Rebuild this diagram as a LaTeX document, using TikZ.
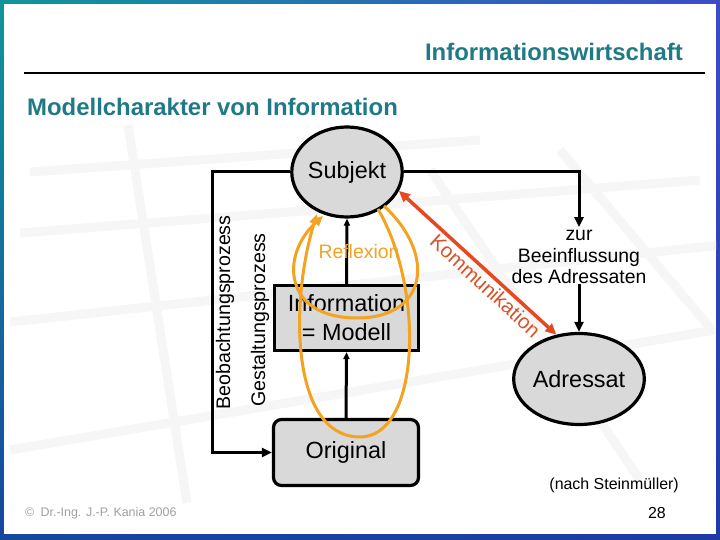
\documentclass[tikz,border=0pt]{standalone}
\usepackage{fontspec}
\setmainfont{Liberation Sans}
\usetikzlibrary{shapes.geometric,arrows.meta,shadings}
\definecolor{frameA}{RGB}{14,150,155}
\definecolor{frameB}{RGB}{60,76,200}
\definecolor{frameC}{RGB}{22,70,160}
\definecolor{frameD}{RGB}{30,58,165}
\definecolor{titlec}{RGB}{31,122,133}
\definecolor{nodegray}{RGB}{217,217,217}
\definecolor{reflc}{RGB}{243,163,33}
\definecolor{kommc}{RGB}{232,72,32}
\definecolor{kommtext}{RGB}{218,82,42}
\definecolor{footgray}{RGB}{160,160,160}
\definecolor{bgline}{RGB}{246,246,246}
\begin{document}
\begin{tikzpicture}[x=1bp,y=-1bp,
  nodebox/.style={draw=black, line width=3.2bp, fill=nodegray, inner sep=0pt,
    font=\fontsize{23.5}{26}\selectfont},
  ellnode/.style={nodebox, ellipse},
  conn/.style={draw=black, line width=3bp},
  bigtip/.style={-{Triangle[length=10bp,width=9bp]}},
  smalltip/.style={-{Triangle[length=7bp,width=6bp]}},
  loopline/.style={draw=reflc, line width=3bp, -{Triangle[length=10bp,width=9bp]}},
  kommline/.style={draw=kommc, line width=3.5bp,
    {Triangle[length=11bp,width=10bp]}-{Triangle[length=11bp,width=10bp]}},
  bgl/.style={draw=bgline, line width=9bp},
  vtext/.style={rotate=90, inner sep=0pt, font=\fontsize{19.7}{22}\selectfont}
]
\useasboundingbox (0,0) rectangle (720,540);
% frame
\shade[upper left=frameA, upper right=frameB, lower left=frameC, lower right=frameD]
  (0,0) rectangle (720,540);
\fill[white] (4,4) rectangle (716,534);
% faint background grid
\begin{scope}
\clip (4,4) rectangle (716,534);
\draw[bgl] (30,172) -- (480,140);
\draw[bgl] (20,233) -- (700,180);
\draw[bgl] (10,322) -- (720,245);
\draw[bgl] (10,450) -- (715,330);
\draw[bgl] (128,125) -- (187,503);
\draw[bgl] (430,170) -- (640,480);
\draw[bgl] (560,150) -- (712,330);
\end{scope}

% header
\node[anchor=east, inner sep=0pt, text=titlec, font=\bfseries\fontsize{24}{28}\selectfont]
  (t1) at (683,52) {Informationswirtschaft};
\draw[line width=1.3bp] (24,73) -- (705,73);
\node[anchor=west, inner sep=0pt, text=titlec, font=\bfseries\fontsize{24}{28}\selectfont]
  (t2) at (27,107) {Modellcharakter von Information};

% nodes
\node[ellnode, minimum width=105bp, minimum height=90bp] (subj) at (347,172) {Subjekt};
\node[ellnode, minimum width=107bp, minimum height=91bp] (adr) at (579,379) {Adressat};
\node[nodebox, rectangle, minimum width=144bp, minimum height=65bp, align=center,
  font=\fontsize{23.5}{29}\selectfont] (info) at (346.5,318) {Information\\= Modell};
\node[nodebox, rectangle, rounded corners=8bp, minimum width=145bp, minimum height=66bp]
  (orig) at (346,452.5) {Original};
\node[inner sep=0pt, align=center, font=\fontsize{19.5}{21.5}\selectfont]
  (zur) at (579,257) {zur\\Beeinflussung\\des Adressaten};

% vertical labels
\node[vtext] (beob) at (225,312.5) {Beobachtungsprozess};
\node[vtext] (gest) at (260,320) {Gestaltungsprozess};

% black connectors
\coordinate (bl) at (212,172);
\draw[conn, bigtip] (subj.west) -- (bl) |- (orig.west);
\draw[conn, bigtip, shorten >=3bp] (subj.east) -| (zur.north);
\draw[conn, bigtip] (zur.south) -- (adr.north);
\draw[conn, smalltip] (info.north) -- (subj.south);
\draw[conn, smalltip] (orig.north) -- (info.south);

% Reflexion
\node[inner sep=0pt, text=reflc, font=\fontsize{19.5}{22}\selectfont] (refl) at (359,252) {Reflexion};
\coordinate (ls1) at (384,206);
\coordinate (le1) at (323,216);
\coordinate (ls2) at (378,209);
\coordinate (le2) at (317,214);
\draw[loopline] (ls1) .. controls (437,255) and (427,318) .. (357,318)
  .. controls (283,318) and (280,255) .. (le1);
\draw[loopline] (ls2) .. controls (425,290) and (420,437) .. (360,437)
  .. controls (290,437) and (290,300) .. (le2);

% Kommunikation
\draw[kommline] (subj.-20) -- node[sloped, below, pos=0.6, inner sep=2.5pt, text=kommtext,
  font=\fontsize{20.5}{22}\selectfont] (kommlabel) {Kommunikation} (adr.117);

% footer
\node[anchor=west, inner sep=0pt, text=footgray, font=\fontsize{12.5}{14}\selectfont]
  (copy) at (25,513) {©\enspace Dr.-Ing. J.-P. Kania 2006};
\node[anchor=east, inner sep=0pt, font=\fontsize{16}{18}\selectfont]
  (nach) at (679,485) {(nach Steinmüller)};
\node[anchor=east, inner sep=0pt, font=\fontsize{16}{18}\selectfont]
  (page) at (666,513) {28};
\end{tikzpicture}
\end{document}
